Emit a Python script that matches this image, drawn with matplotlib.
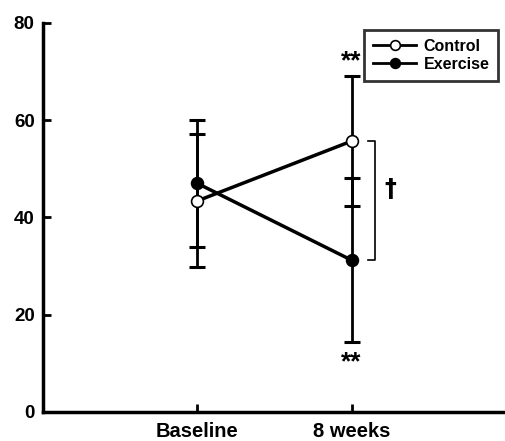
import matplotlib.pyplot as plt
from matplotlib.lines import Line2D

plt.rcParams['font.family'] = ['Liberation Sans', 'DejaVu Sans']
plt.rcParams['font.weight'] = 'bold'

timepoints = ['Baseline', '8 weeks']
x_pos = [1, 2]
control_mean = [43.4, 55.7]
control_err = [13.7, 13.3]
exercise_mean = [47.0, 31.2]
exercise_err = [13.0, 16.9]

fig = plt.figure(figsize=(5.06, 4.41), dpi=100)
ax = fig.add_axes([0.085, 0.066, 0.915, 0.882])

# error bars first so markers sit on top
ax.errorbar(x_pos, control_mean, yerr=control_err, fmt='none', ecolor='black',
            elinewidth=2, capsize=5.8, capthick=2.2, zorder=2)
ax.errorbar(x_pos, exercise_mean, yerr=exercise_err, fmt='none', ecolor='black',
            elinewidth=2, capsize=5.8, capthick=2.2, zorder=2)

ax.plot(x_pos, control_mean, color='black', lw=2.5, marker='o', ms=8.5,
        mfc='white', mec='black', mew=1.2, zorder=4, label='Control')
ax.plot(x_pos, exercise_mean, color='black', lw=2.5, marker='o', ms=8.5,
        mfc='black', mec='black', mew=1.2, zorder=3, label='Exercise')

# significance marks
ax.text(x_pos[1], control_mean[1] + control_err[1] + 0.6, '**', ha='center',
        va='bottom', fontsize=19)
ax.text(x_pos[1], exercise_mean[1] - exercise_err[1] - 1.6, '**', ha='center',
        va='top', fontsize=19)

# bracket between groups at 8 weeks
bx = x_pos[1] + 0.15
ax.plot([bx - 0.045, bx, bx, bx - 0.045],
        [control_mean[1], control_mean[1], exercise_mean[1], exercise_mean[1]],
        color='black', lw=1.2)
ax.text(bx + 0.1, 45.9, '\u2020', ha='center', va='center', fontsize=17,
        family='DejaVu Sans', fontweight='bold')

ax.set_xlim(0, 3)
ax.set_ylim(0, 80)
ax.set_xticks(x_pos)
ax.set_xticklabels(timepoints)
ax.set_yticks([0, 20, 40, 60, 80])

for side in ['top', 'right']:
    ax.spines[side].set_visible(False)
for side in ['left', 'bottom']:
    ax.spines[side].set_linewidth(2.5)
ax.tick_params(direction='in', length=6, width=2, labelsize=13.5, pad=6)
ax.tick_params(axis='x', pad=7, labelsize=14.5)

handles = [Line2D([], [], color='black', lw=2, marker='o', ms=7, mfc='white',
                  mec='black', mew=1.2),
           Line2D([], [], color='black', lw=2, marker='o', ms=7, mfc='black',
                  mec='black', mew=1.2)]
leg = ax.legend(handles, ['Control', 'Exercise'], loc='upper right',
                bbox_to_anchor=(0.99, 0.99), fontsize=11.5, frameon=True,
                fancybox=False, edgecolor='black', handlelength=2.7,
                handletextpad=0.45, borderpad=0.55, labelspacing=0.2,
                borderaxespad=0.2)
leg.get_frame().set_linewidth(2)

fig.savefig('out.png', dpi=100)
